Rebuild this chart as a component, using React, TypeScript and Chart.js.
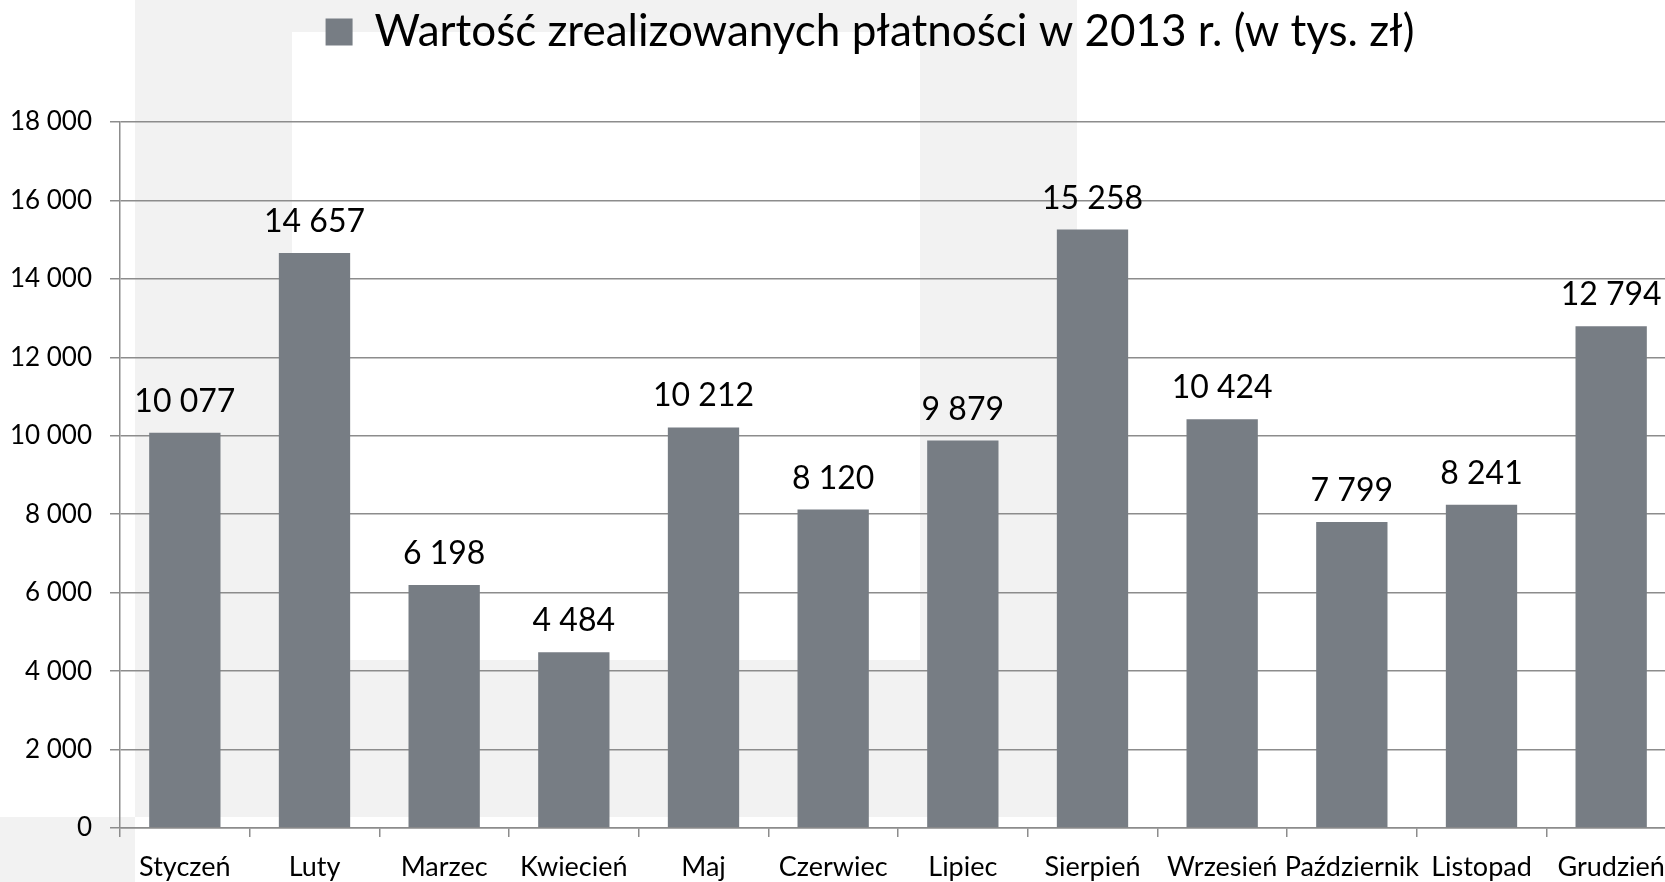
import React, { useEffect, useRef } from "react";
import { Chart, registerables } from "chart.js";

Chart.register(...registerables);

const months = [
  "Styczeń", "Luty", "Marzec", "Kwiecień", "Maj", "Czerwiec",
  "Lipiec", "Sierpień", "Wrzesień", "Październik", "Listopad", "Grudzień",
];
const payments = [10077, 14657, 6198, 4484, 10212, 8120, 9879, 15258, 10424, 7799, 8241, 12794];
const seriesLabel = "Wartość zrealizowanych płatności w 2013 r. (w tys. zł)";
const yTicks = [0, 2000, 4000, 6000, 8000, 10000, 12000, 14000, 16000, 18000];

const FONT = "Lato, 'Open Sans', sans-serif";
const BAR = "#777d84";
const GRID = "#8c8c8c";

const fmt = (v: number) => String(v).replace(/\B(?=(\d{3})+(?!\d))/g, " ");

const backdrop = {
  id: "backdrop",
  beforeDraw(chart: any) {
    const ctx = chart.ctx;
    ctx.save();
    ctx.fillStyle = "#ffffff";
    ctx.fillRect(0, 0, chart.width, chart.height);
    ctx.fillStyle = "#f2f2f2";
    ctx.beginPath();
    ctx.rect(135, 0, 942, 817);
    ctx.rect(292, 32, 628, 628);
    ctx.fill("evenodd");
    ctx.fillRect(0, 817, 135, 65);
    ctx.restore();
  },
};

const legendSpace = {
  id: "legendSpace",
  beforeLayout(chart: any) {
    const lg = chart.legend;
    if (lg && !lg._patched) {
      const f = lg.fit;
      lg.fit = function () {
        f.call(this);
        this.height = 122;
      };
      lg._patched = true;
    }
  },
};

const valueLabels = {
  id: "valueLabels",
  afterDatasetsDraw(chart: any) {
    const ctx = chart.ctx;
    const meta = chart.getDatasetMeta(0);
    const data = chart.data.datasets[0].data as number[];
    ctx.save();
    ctx.font = `32px ${FONT}`;
    ctx.fillStyle = "#000";
    ctx.textAlign = "center";
    ctx.textBaseline = "alphabetic";
    meta.data.forEach((bar: any, i: number) => {
      ctx.fillText(fmt(data[i]), bar.x, bar.y - 21);
    });
    ctx.restore();
  },
};

export default function App() {
  const ref = useRef<HTMLCanvasElement>(null);
  useEffect(() => {
    if (!ref.current) return;
    const chart = new Chart(ref.current, {
      type: "bar",
      data: {
        labels: months,
        datasets: [
          {
            label: seriesLabel,
            data: payments,
            backgroundColor: BAR,
            borderWidth: 0,
            barPercentage: 0.55,
            categoryPercentage: 1,
          },
        ],
      },
      options: {
        responsive: false,
        animation: false,
        devicePixelRatio: 1,
        layout: { padding: 0 },
        plugins: {
          tooltip: { enabled: false },
          legend: {
            display: true,
            position: "top",
            align: "center",
            labels: {
              boxWidth: 27,
              boxHeight: 27,
              color: "#000",
              padding: 10,
              font: { family: FONT, size: 44 },
            },
          },
        },
        scales: {
          x: {
            offset: true,
            grid: {
              display: true,
              drawOnChartArea: false,
              drawTicks: true,
              tickLength: 9,
              color: GRID,
              lineWidth: 1.5,
              offset: true,
            },
            border: { display: true, color: GRID, width: 1.5 },
            ticks: {
              color: "#000",
              font: { family: FONT, size: 27 },
              padding: 14,
              maxRotation: 0,
              autoSkip: false,
            },
            afterFit(scale: any) {
              scale.height = 54;
            },
          },
          y: {
            min: 0,
            max: 18000,
            afterBuildTicks(scale: any) {
              scale.ticks = yTicks.map((v) => ({ value: v }));
            },
            grid: {
              color: GRID,
              lineWidth: 1.5,
              drawTicks: true,
              tickLength: 10,
            },
            border: { display: true, color: GRID, width: 1.5 },
            ticks: {
              color: "#000",
              font: { family: FONT, size: 26 },
              padding: 18,
              callback: (v: any) => fmt(Number(v)),
            },
            afterFit(scale: any) {
              scale.width = 120;
            },
          },
          yRight: {
            position: "right",
            min: 0,
            max: 18000,
            grid: { display: false, drawTicks: false },
            border: { display: false },
            ticks: { display: false },
            afterFit(scale: any) {
              scale.width = 64;
            },
          },
        },
      },
      plugins: [backdrop, legendSpace, valueLabels],
    });
    return () => chart.destroy();
  }, []);

  return (
    <div
      style={{
        position: "fixed",
        left: 0,
        top: 0,
        width: 1665,
        height: 882,
        overflow: "hidden",
        background: "#fff",
      }}
    >
      <canvas ref={ref} width={1740} height={882} style={{ width: 1740, height: 882, display: "block" }} />
    </div>
  );
}
